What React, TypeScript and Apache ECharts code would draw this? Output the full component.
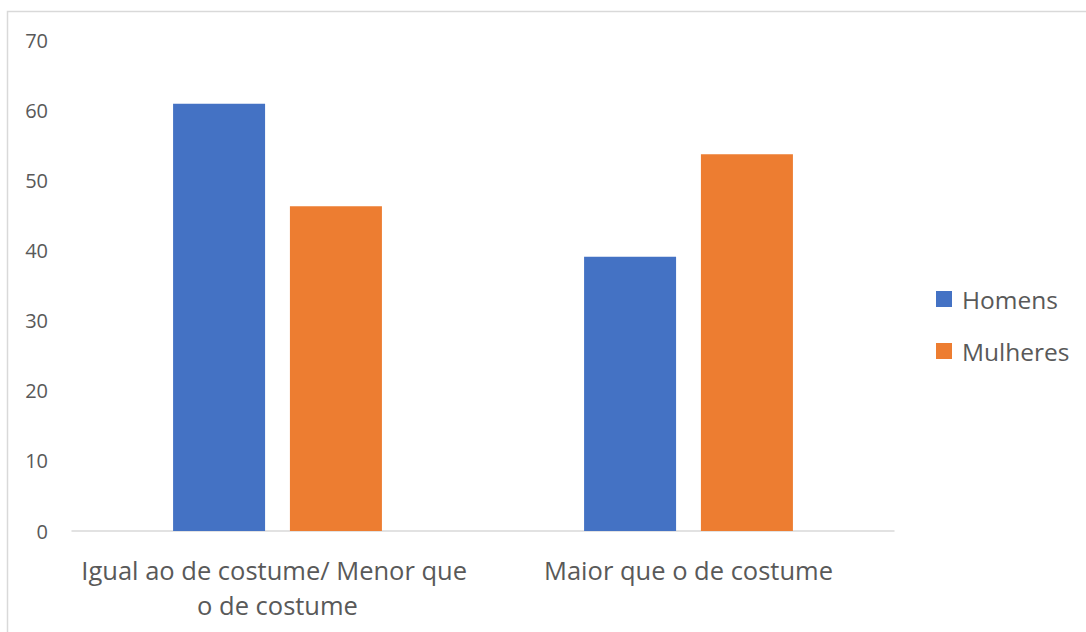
import React, { useEffect, useRef } from "react";
import * as echarts from "echarts";

const categories = ["Igual ao de costume/ Menor que o de costume", "Maior que o de costume"];
const homens = [60.9, 39.1];
const mulheres = [46.3, 53.7];
const yTicks = { min: 0, max: 70, interval: 10 };

const FONT = "'Open Sans', 'Noto Sans', sans-serif";
const TEXT = "#595959";

export default function App() {
  const ref = useRef<HTMLDivElement>(null);

  useEffect(() => {
    if (!ref.current) return;
    const chart = echarts.init(ref.current, null, { renderer: "svg" });
    chart.setOption({
      animation: false,
      backgroundColor: "#ffffff",
      textStyle: { fontFamily: FONT },
      graphic: [
        {
          type: "rect",
          shape: { x: 7.5, y: 11.5, width: 1200, height: 1000 },
          style: { fill: "none", stroke: "#d9d9d9", lineWidth: 1.5 },
          silent: true,
        },
      ],
      grid: { left: 72, right: 192, top: 40, bottom: 101, containLabel: false },
      legend: {
        orient: "vertical",
        left: 931,
        top: 281,
        itemWidth: 16,
        itemHeight: 16,
        itemGap: 26,
        icon: "rect",
        data: ["Homens", "Mulheres"],
        textStyle: {
          color: TEXT,
          fontSize: 24.5,
          lineHeight: 26,
          fontFamily: FONT,
          padding: [0, 0, 0, 5],
        },
      },
      xAxis: {
        type: "category",
        data: categories,
        axisLine: { show: true, lineStyle: { color: "#d9d9d9", width: 1.5 } },
        axisTick: { show: false },
        axisLabel: {
          color: TEXT,
          fontSize: 25.5,
          fontFamily: FONT,
          margin: 21,
          width: 405,
          overflow: "break",
          lineHeight: 35,
          interval: 0,
        },
      },
      yAxis: {
        type: "value",
        min: yTicks.min,
        max: yTicks.max,
        interval: yTicks.interval,
        splitLine: { show: false },
        axisLine: { show: false },
        axisTick: { show: false },
        axisLabel: { color: TEXT, fontSize: 20, fontFamily: FONT, margin: 24 },
      },
      series: [
        {
          name: "Homens",
          type: "bar",
          data: homens,
          barWidth: 92,
          barGap: "27%",
          itemStyle: { color: "#4472C4" },
        },
        {
          name: "Mulheres",
          type: "bar",
          data: mulheres,
          barWidth: 92,
          barGap: "27%",
          itemStyle: { color: "#ED7D31" },
        },
      ],
    });
    return () => chart.dispose();
  }, []);

  return (
    <div
      ref={ref}
      style={{ position: "fixed", left: 0, top: 0, width: 1086, height: 632 }}
    />
  );
}
